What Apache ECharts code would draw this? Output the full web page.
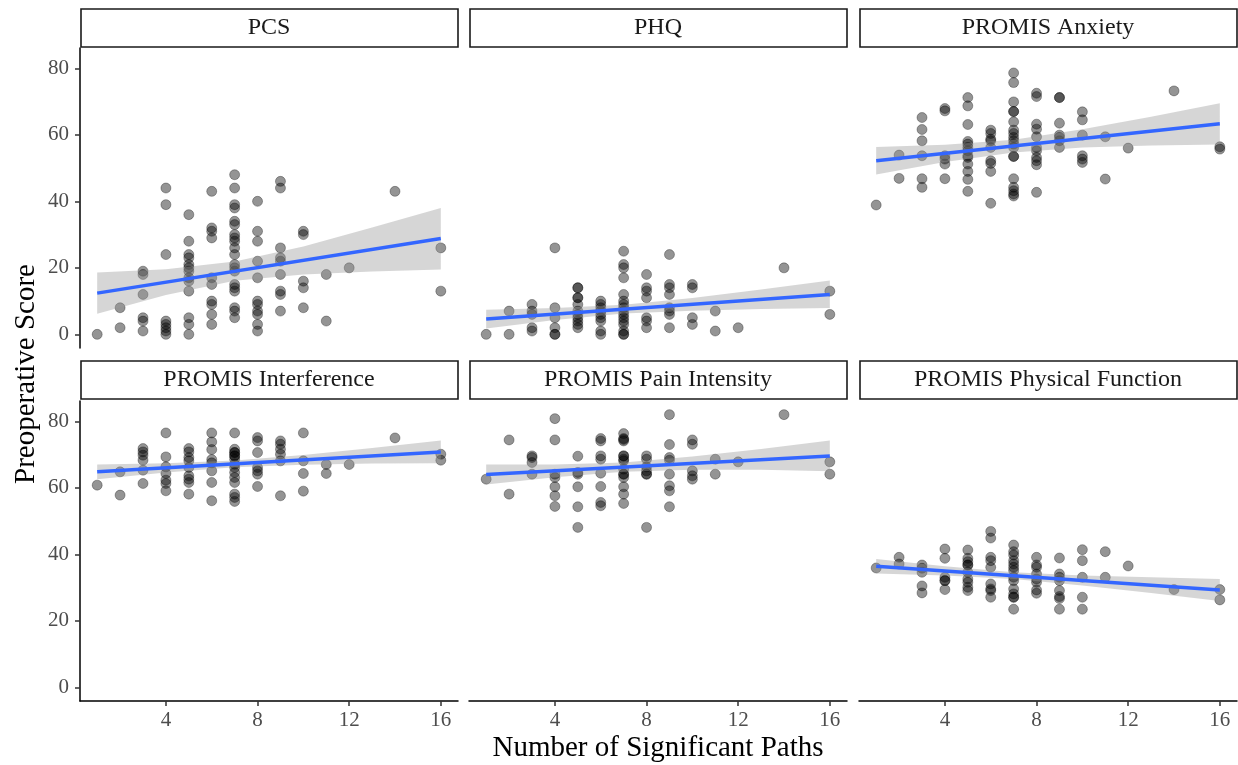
<!DOCTYPE html>
<html>
<head>
<meta charset="utf-8">
<title>Preoperative Score vs Number of Significant Paths</title>
<script src="https://cdn.jsdelivr.net/npm/echarts@6/dist/echarts.min.js"></script>
<style>
  html, body { margin: 0; padding: 0; background: #fff; }
  #myChart { width: 1238px; height: 765px; }
</style>
</head>
<body>
<div id="myChart"></div>
<script type="text/javascript">
var panelNames = ['PCS', 'PHQ', 'PROMIS Anxiety', 'PROMIS Interference', 'PROMIS Pain Intensity', 'PROMIS Physical Function'];
var xTicks = [4, 8, 12, 16];
var yTicks = [0, 20, 40, 60, 80];

// points: [number of significant paths, preoperative score]
var pcsPoints = [
  [1,0],[2,8],[2,2],
  [3,19],[3,18],[3,12],[3,5],[3,4],[3,1],
  [4,44],[4,39],[4,24],[4,4],[4,3],[4,2],[4,1],[4,0],
  [5,36],[5,28],[5,24],[5,23],[5,21],[5,20],[5,19],[5,17],[5,16],[5,13],[5,5],[5,3],[5,0],
  [6,43],[6,32],[6,31],[6,29],[6,17],[6,15],[6,10],[6,9],[6,6],[6,3],
  [7,48],[7,44],[7,39],[7,38],[7,34],[7,33],[7,30],[7,29],[7,28],[7,26],[7,24],[7,21],[7,20],[7,19],[7,15],[7,14],[7,13],[7,8],[7,7],[7,5],
  [8,40],[8,31],[8,28],[8,22],[8,17],[8,10],[8,9],[8,7],[8,6],[8,3],[8,1],
  [9,46],[9,44],[9,26],[9,23],[9,22],[9,18],[9,13],[9,12],[9,7],
  [10,31],[10,30],[10,16],[10,14],[10,8],
  [11,18],[11,4],[12,20],[14,43],[16,26],[16,13]
];
var phqPoints = [
  [1,0],[2,7],[2,0],
  [3,9],[3,7],[3,6],[3,2],[3,1],
  [4,26],[4,8],[4,5],[4,2],[4,0],[4,0],
  [5,14],[5,14],[5,11],[5,11],[5,9],[5,7],[5,6],[5,5],[5,4],[5,3],[5,2],
  [6,10],[6,9],[6,8],[6,7],[6,6],[6,5],[6,4],[6,1],[6,0],
  [7,25],[7,21],[7,20],[7,17],[7,12],[7,10],[7,9],[7,8],[7,7],[7,6],[7,5],[7,4],[7,3],[7,1],[7,0],[7,0],
  [8,18],[8,14],[8,13],[8,11],[8,5],[8,4],[8,2],
  [9,24],[9,15],[9,14],[9,12],[9,8],[9,7],[9,6],[9,2],
  [10,15],[10,14],[10,5],[10,3],
  [11,7],[11,1],[12,2],[14,20],[16,13],[16,6]
];
var anxietyPoints = [
  [1,38.9],[2,53.9],[2,46.9],
  [3,65.2],[3,61.6],[3,58.2],[3,53.7],[3,46.8],[3,44.2],
  [4,67.9],[4,67.2],[4,53.7],[4,52.7],[4,51.2],[4,46.8],
  [5,71.2],[5,68.7],[5,63.1],[5,58],[5,57.2],[5,56.2],[5,55.2],[5,53.7],[5,53.2],[5,51.2],[5,49],[5,46.6],[5,43],
  [6,61.4],[6,60.4],[6,58.7],[6,58.2],[6,56.2],[6,52.2],[6,51.4],[6,49],[6,39.4],
  [7,78.6],[7,75.7],[7,69.9],[7,67],[7,67],[7,63.9],[7,61.4],[7,60.4],[7,59.2],[7,58.2],[7,57.2],[7,56.2],[7,53.5],[7,53.5],[7,46.8],[7,44.2],[7,43.2],[7,42.2],[7,41.6],
  [8,72.5],[8,71.5],[8,63.2],[8,61.7],[8,59.4],[8,56.2],[8,55.2],[8,53.2],[8,52.2],[8,51],[8,42.7],
  [9,71.2],[9,71.2],[9,63.5],[9,59.9],[9,59.2],[9,58.2],[9,56.2],
  [10,66.9],[10,64.5],[10,59.9],[10,53.7],[10,52.7],[10,51.7],
  [11,59.4],[11,46.7],[12,56],[14,73.2],[16,56.4],[16,55.7]
];
var interferencePoints = [
  [1,60.8],[2,64.8],[2,57.8],
  [3,71.8],[3,70.8],[3,69.8],[3,68.3],[3,65.3],[3,61.3],
  [4,76.5],[4,69.3],[4,66.3],[4,64.3],[4,62.3],[4,61.3],[4,59.1],
  [5,71.8],[5,70.8],[5,69.1],[5,68.1],[5,66.1],[5,63.6],[5,62.6],[5,61.6],[5,58.1],
  [6,76.5],[6,73.8],[6,71.5],[6,68.5],[6,67.5],[6,65.1],[6,61.6],[6,56.1],
  [7,76.5],[7,71.6],[7,70.6],[7,70.6],[7,69.6],[7,69.6],[7,68.6],[7,67.1],[7,66.1],[7,64.6],[7,63.1],[7,61.6],[7,58.1],[7,57.1],[7,55.9],
  [8,75.1],[8,74.1],[8,70.6],[8,66.1],[8,65.1],[8,64.1],[8,60.4],
  [9,74.1],[9,73.1],[9,71.6],[9,70.1],[9,68.1],[9,57.6],
  [10,76.5],[10,68.1],[10,64.3],[10,59],
  [11,67],[11,64.3],[12,67],[14,75],[16,70.1],[16,68.3]
];
var painPoints = [
  [1,62.6],[2,74.4],[2,58.1],
  [3,69.6],[3,69.1],[3,67.6],[3,64.1],
  [4,80.8],[4,74.4],[4,64.1],[4,63.1],[4,60.3],[4,57.6],[4,54.4],
  [5,69.5],[5,64.6],[5,64.1],[5,60.3],[5,54.3],[5,48.1],
  [6,74.8],[6,74.1],[6,69.6],[6,68.6],[6,64.4],[6,60.4],[6,55.6],[6,54.6],
  [7,76.3],[7,74.8],[7,74.5],[7,74.1],[7,69.6],[7,69.6],[7,68.6],[7,68.1],[7,65.6],[7,64.1],[7,64.1],[7,63.1],[7,60.3],[7,58.1],[7,55.3],
  [8,69.6],[8,68.6],[8,66.3],[8,65.1],[8,64.1],[8,64.1],[8,48.1],
  [9,82],[9,73],[9,69.1],[9,68.3],[9,64.1],[9,60.6],[9,59.1],[9,54.3],
  [10,74.4],[10,73.1],[10,65.1],[10,63.6],[10,62.6],
  [11,68.6],[11,64.1],[12,67.8],[14,82],[16,67.8],[16,64.1]
];
var physicalPoints = [
  [1,35.9],[2,39.1],[2,37.1],
  [3,36.8],[3,35.8],[3,34.6],[3,30.5],[3,28.4],
  [4,41.6],[4,38.8],[4,33.1],[4,32.1],[4,32.1],[4,29.4],
  [5,41.3],[5,38.8],[5,37.8],[5,36.8],[5,36.8],[5,34.6],[5,32.6],[5,31.6],[5,30.1],[5,29.1],
  [6,46.9],[6,44.9],[6,39.1],[6,38.1],[6,36.1],[6,31.1],[6,29.6],[6,29.1],[6,27.1],
  [7,42.8],[7,40.8],[7,39.8],[7,38.1],[7,37.1],[7,36.1],[7,35.1],[7,33.1],[7,32.1],[7,29.6],[7,28.1],[7,27.1],[7,27.1],[7,23.5],
  [8,39.1],[8,36.8],[8,36.1],[8,34.1],[8,32.6],[8,31.6],[8,29.3],[8,28.3],
  [9,38.9],[9,34.1],[9,33.1],[9,32.1],[9,29.1],[9,27.3],[9,26.7],[9,23.5],
  [10,41.4],[10,38.1],[10,33.1],[10,27.1],[10,23.5],
  [11,40.8],[11,33.1],[12,36.5],[14,29.4],[16,29.4],[16,26.3]
];

// fitted line (at x = 1 and x = 16) and confidence band edges
var fitX = [1, 16];
var bandX = [1, 4, 7, 10, 13, 16];

var pcsFit = [12.4, 28.8];
var pcsLower = [6.2, 11.8, 16.1, 18.0, 18.9, 19.5];
var pcsUpper = [18.6, 19.6, 21.9, 26.4, 32.1, 38.0];

var phqFit = [4.6, 12.0];
var phqLower = [1.8, 4.3, 6.3, 7.1, 7.6, 7.9];
var phqUpper = [7.4, 7.9, 8.9, 10.9, 13.5, 16.2];

var anxietyFit = [52.2, 63.3];
var anxietyLower = [48.1, 51.8, 54.7, 56.2, 56.8, 57.1];
var anxietyUpper = [56.3, 57.0, 58.5, 61.7, 65.4, 69.5];

var interferenceFit = [64.8, 70.8];
var interferenceLower = [62.6, 64.6, 66.2, 66.9, 67.3, 67.4];
var interferenceUpper = [67.0, 67.4, 68.2, 69.9, 72.0, 74.2];

var painFit = [64.0, 69.6];
var painLower = [61.0, 63.2, 64.8, 65.4, 65.4, 65.0];
var painUpper = [67.0, 67.0, 67.6, 69.4, 71.7, 74.2];

var physicalFit = [36.4, 29.3];
var physicalLower = [34.2, 33.6, 32.6, 30.6, 28.4, 26.0];
var physicalUpper = [38.6, 36.4, 34.6, 33.6, 33.1, 32.6];

var panels = [
  { points: pcsPoints, fit: pcsFit, lower: pcsLower, upper: pcsUpper },
  { points: phqPoints, fit: phqFit, lower: phqLower, upper: phqUpper },
  { points: anxietyPoints, fit: anxietyFit, lower: anxietyLower, upper: anxietyUpper },
  { points: interferencePoints, fit: interferenceFit, lower: interferenceLower, upper: interferenceUpper },
  { points: painPoints, fit: painFit, lower: painLower, upper: painUpper },
  { points: physicalPoints, fit: physicalFit, lower: physicalLower, upper: physicalUpper }
];

// layout
var colLeft = [80, 469, 859];
var rowTop = [48, 401];
var panelW = 378, panelH = 300;
var stripTop = [9, 361], stripH = 38;
var serif = '"Liberation Serif", "Times New Roman", serif';

var grids = [], xAxes = [], yAxes = [], series = [], graphics = [];

function bandRender(lower, upper) {
  return function (params, api) {
    var pts = [], k;
    for (k = 0; k < bandX.length; k++) pts.push(api.coord([bandX[k], upper[k]]));
    for (k = bandX.length - 1; k >= 0; k--) pts.push(api.coord([bandX[k], lower[k]]));
    return { type: 'polygon', shape: { points: pts }, style: { fill: 'rgba(153,153,153,0.4)' } };
  };
}

panels.forEach(function (p, i) {
  var col = i % 3, row = Math.floor(i / 3);
  grids.push({ left: colLeft[col], top: rowTop[row], width: panelW, height: panelH, containLabel: false, outerBoundsMode: 'none' });
  xAxes.push({
    gridIndex: i, type: 'value', min: 0.25, max: 16.75,
    splitLine: { show: false },
    axisLine: { show: row === 1, onZero: false, lineStyle: { color: '#000', width: 1.5 } },
    axisTick: { show: row === 1, customValues: xTicks, length: 5, lineStyle: { color: '#333', width: 1.5 } },
    axisLabel: { show: row === 1, customValues: xTicks, margin: 9, color: '#4d4d4d', fontSize: 21, fontFamily: serif }
  });
  yAxes.push({
    gridIndex: i, type: 'value', min: -4.1, max: 86.1,
    splitLine: { show: false },
    axisLine: { show: col === 0, onZero: false, lineStyle: { color: '#000', width: 1.5 } },
    axisTick: { show: col === 0, customValues: yTicks, length: 5, lineStyle: { color: '#333', width: 1.5 } },
    axisLabel: { show: col === 0, customValues: yTicks, margin: 11, color: '#4d4d4d', fontSize: 21, fontFamily: serif }
  });
  series.push({
    type: 'scatter', xAxisIndex: i, yAxisIndex: i, data: p.points,
    symbolSize: 10, silent: true,
    itemStyle: { color: 'rgba(0,0,0,0.42)', borderColor: 'rgba(0,0,0,0.3)', borderWidth: 1, opacity: 1 }
  });
  series.push({
    type: 'custom', xAxisIndex: i, yAxisIndex: i, silent: true, z: 3,
    data: [[bandX[0], p.lower[0]]],
    renderItem: bandRender(p.lower, p.upper)
  });
  series.push({
    type: 'line', xAxisIndex: i, yAxisIndex: i, silent: true, z: 4,
    data: [[fitX[0], p.fit[0]], [fitX[1], p.fit[1]]],
    showSymbol: false, lineStyle: { color: '#3366FF', width: 3.5 }
  });
  graphics.push({
    type: 'rect',
    shape: { x: colLeft[col] + 1, y: stripTop[row], width: panelW - 1, height: stripH },
    style: { fill: '#fff', stroke: '#1a1a1a', lineWidth: 1.6 }
  });
  graphics.push({
    type: 'text',
    x: colLeft[col] + panelW / 2, y: stripTop[row] + stripH / 2,
    style: { text: panelNames[i], align: 'center', verticalAlign: 'middle', fill: '#1a1a1a', font: '24px ' + serif }
  });
});

graphics.push({
  type: 'text', x: 26, y: 374, rotation: Math.PI / 2,
  style: { text: 'Preoperative Score', align: 'center', verticalAlign: 'middle', fill: '#000', font: '29px ' + serif }
});
graphics.push({
  type: 'text', x: 658, y: 748,
  style: { text: 'Number of Significant Paths', align: 'center', verticalAlign: 'middle', fill: '#000', font: '29px ' + serif }
});

var option = {
  animation: false,
  backgroundColor: '#fff',
  grid: grids,
  xAxis: xAxes,
  yAxis: yAxes,
  series: series,
  graphic: graphics
};

var myChart = echarts.init(document.getElementById('myChart'));
myChart.setOption(option);
</script>
</body>
</html>
